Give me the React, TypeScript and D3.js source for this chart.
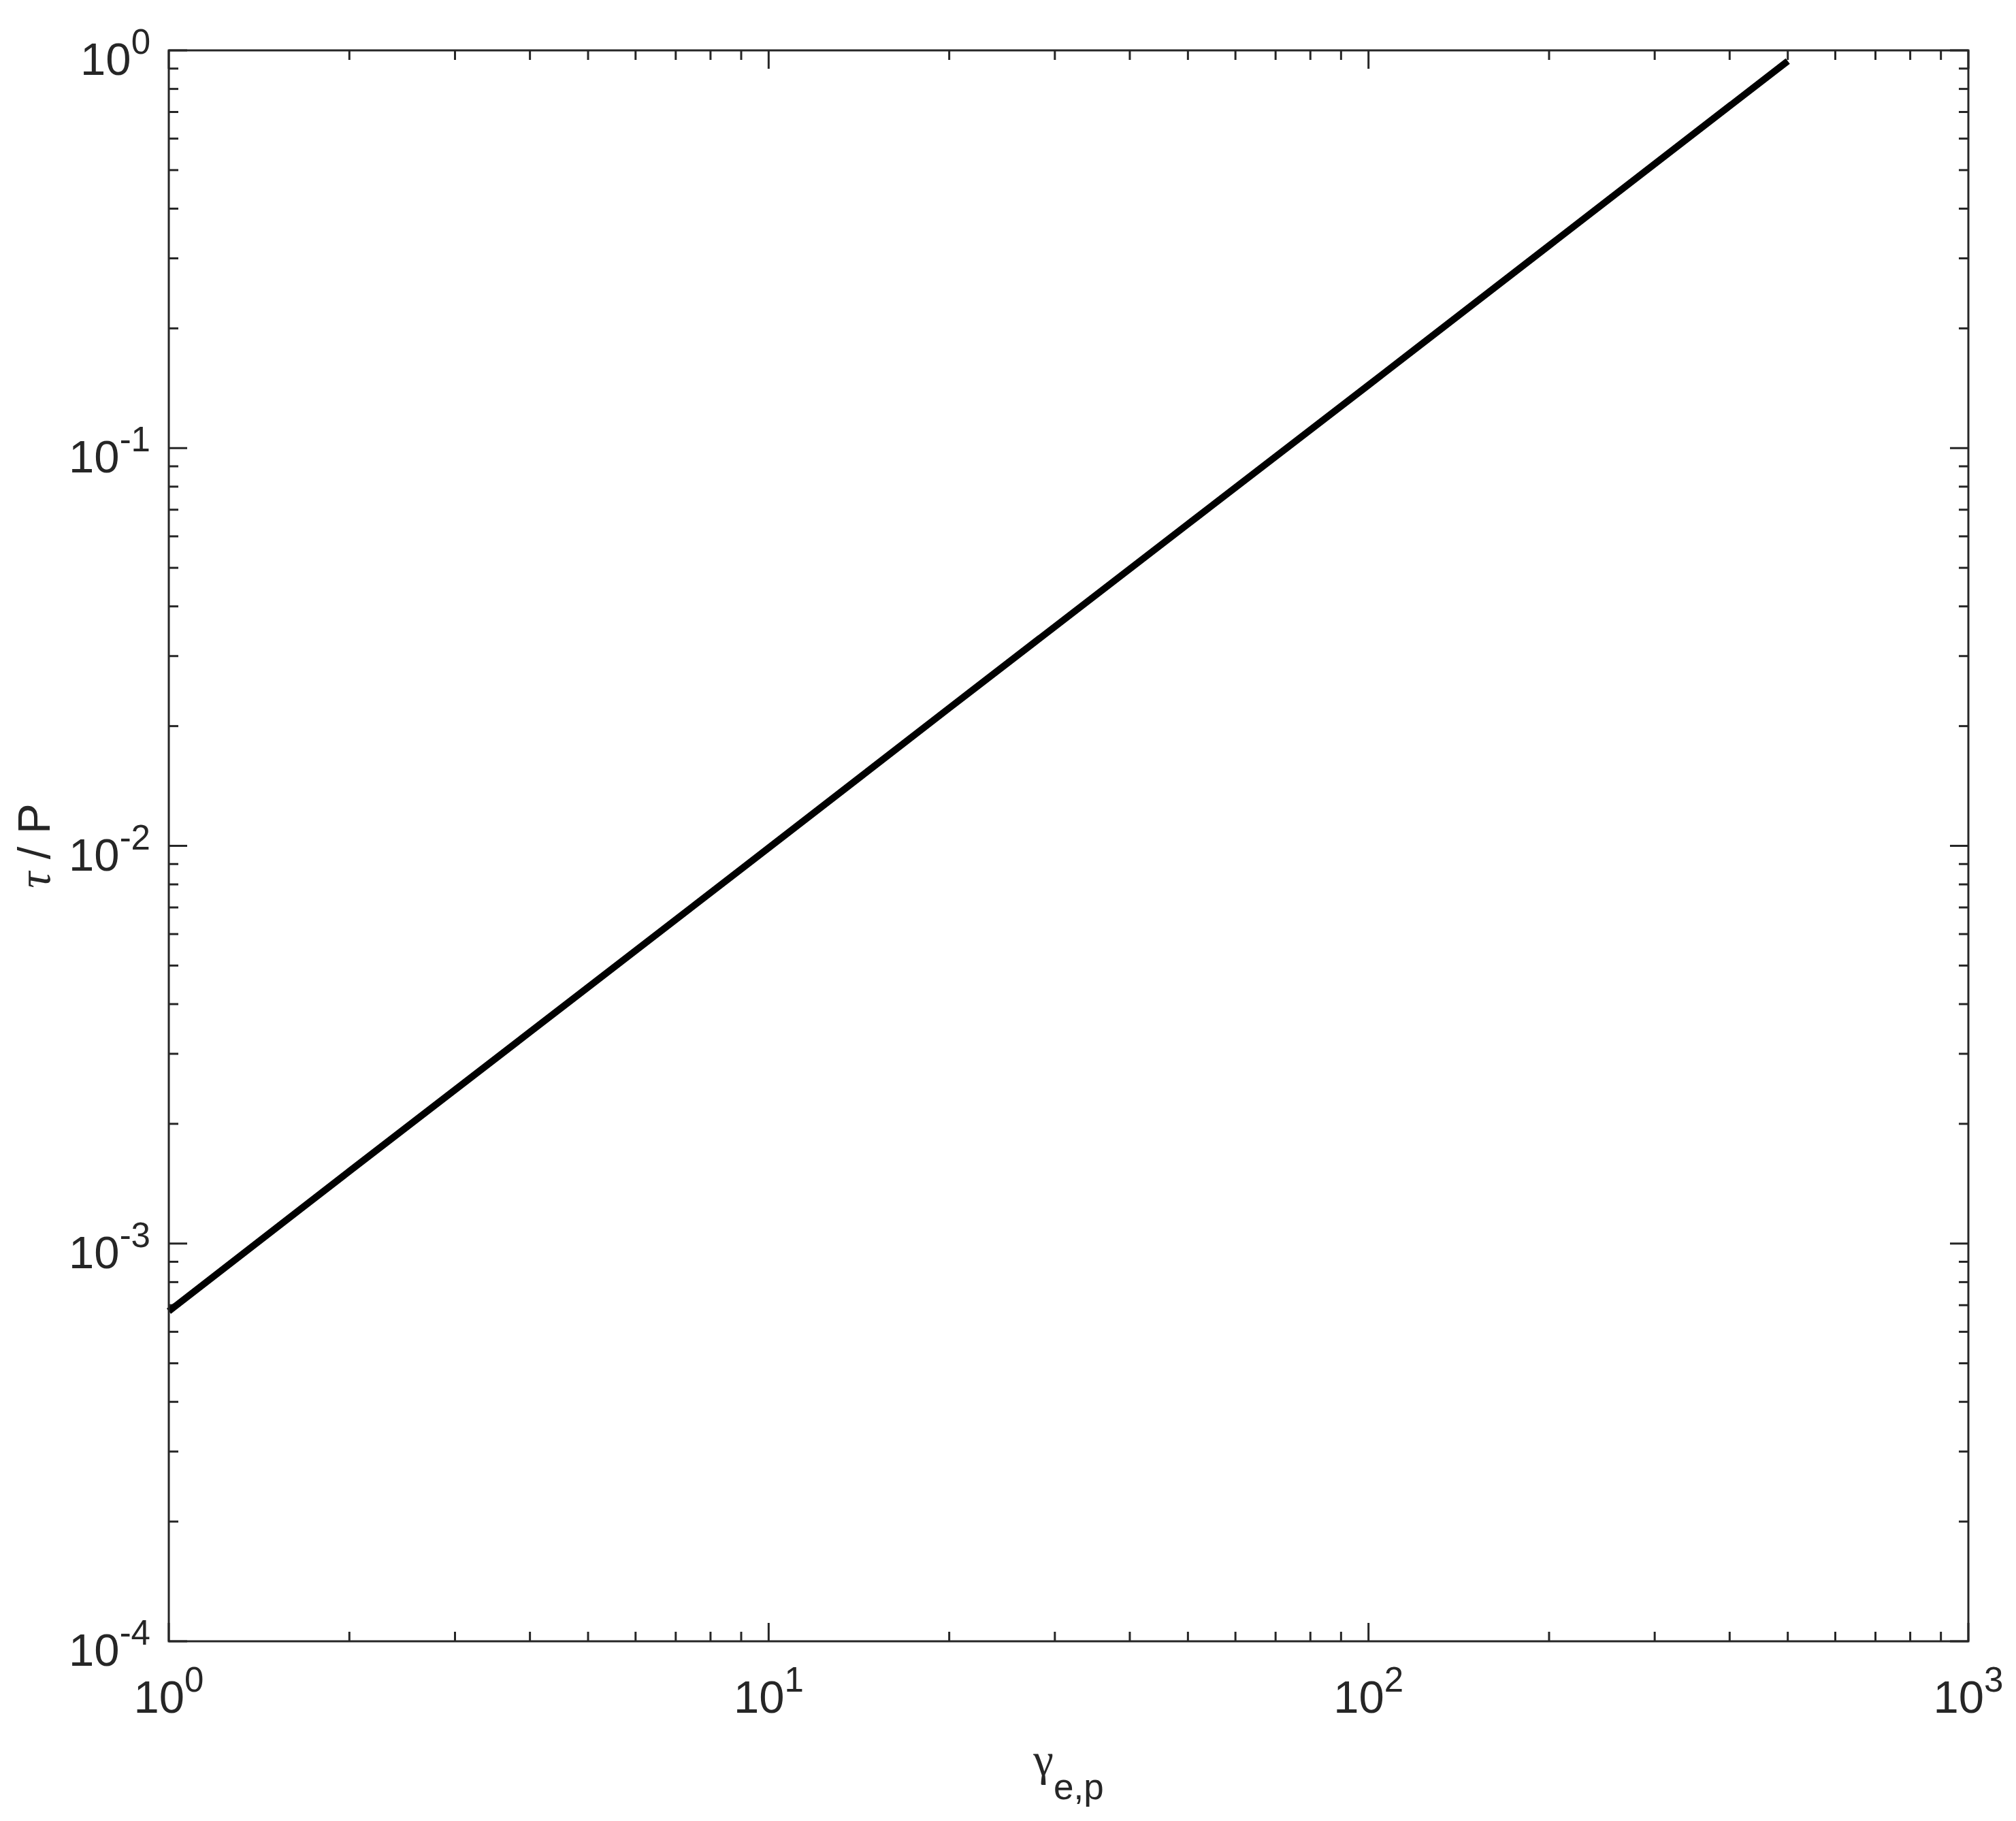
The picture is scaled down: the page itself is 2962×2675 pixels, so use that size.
import React from "react";
import * as d3 from "d3";

const width = 2962;
const height = 2675;

// values
const gamma = [1, 2, 5, 10, 20, 50, 100, 200, 500];
const tauOverP = [6.76e-4, 1.52e-3, 4.41e-3, 9.88e-3, 0.0222, 0.0644, 0.144, 0.323, 0.94];
const xDecades = [0, 1, 2, 3];
const yDecades = [-4, -3, -2, -1, 0];

const margin = { left: 248, right: 70, top: 74, bottom: 264 };
const axisColor = "#262626";
const sans = "'Liberation Sans', Arial, Helvetica, sans-serif";
const serif = "'Liberation Serif', 'Times New Roman', serif";

const App = () => {
  const x = d3
    .scaleLog()
    .domain([1, 1000])
    .range([margin.left, width - margin.right]);
  const y = d3
    .scaleLog()
    .domain([1e-4, 1])
    .range([height - margin.bottom, margin.top]);

  const [x0, x1] = x.range();
  const [y0, y1] = y.range();

  const isMajor = (v: number) => Math.abs(Math.log10(v) - Math.round(Math.log10(v))) < 1e-9;
  const majorLen = 27;
  const minorLen = 14;

  const line = d3
    .line<number>()
    .x((d, i) => x(gamma[i]))
    .y((d) => y(d));

  const xt = x.ticks();
  const yt = y.ticks();

  return (
    <svg
      width={width}
      height={height}
      viewBox={`0 0 ${width} ${height}`}
      style={{ position: "absolute", left: 0, top: 0, background: "white" }}
    >
      <rect x={0} y={0} width={width} height={height} fill="white" />

      {/* ticks, inward on all four sides */}
      <g stroke={axisColor} strokeWidth={3}>
        {xt.map((t, i) => {
          const len = isMajor(t) ? majorLen : minorLen;
          return (
            <g key={"xt" + i}>
              <line x1={x(t)} x2={x(t)} y1={y0} y2={y0 - len} />
              <line x1={x(t)} x2={x(t)} y1={y1} y2={y1 + len} />
            </g>
          );
        })}
        {yt.map((t, i) => {
          const len = isMajor(t) ? majorLen : minorLen;
          return (
            <g key={"yt" + i}>
              <line x1={x0} x2={x0 + len} y1={y(t)} y2={y(t)} />
              <line x1={x1} x2={x1 - len} y1={y(t)} y2={y(t)} />
            </g>
          );
        })}
      </g>

      {/* data */}
      <path
        d={line(tauOverP) || ""}
        fill="none"
        stroke="#000"
        strokeWidth={10}
        strokeLinecap="butt"
        strokeLinejoin="round"
      />

      {/* frame */}
      <rect
        x={x0}
        y={y1}
        width={x1 - x0}
        height={y0 - y1}
        fill="none"
        stroke={axisColor}
        strokeWidth={3}
      />

      {/* x tick labels */}
      <g fill={axisColor} fontFamily={sans}>
        {xDecades.map((p) => (
          <text key={"xl" + p} x={x(Math.pow(10, p))} y={y0 + 105} textAnchor="middle" fontSize={67}>
            10
            <tspan fontSize={51} dy={-31}>
              {p}
            </tspan>
          </text>
        ))}
      </g>

      {/* y tick labels */}
      <g fill={axisColor} fontFamily={sans}>
        {yDecades.map((p) => (
          <text key={"yl" + p} x={x0 - 27} y={y(Math.pow(10, p)) + 36} textAnchor="end" fontSize={67}>
            10
            <tspan fontSize={51} dy={-31}>
              {p < 0 ? "-" + Math.abs(p) : p}
            </tspan>
          </text>
        ))}
      </g>

      {/* x axis label */}
      <text
        x={(x0 + x1) / 2}
        y={2608}
        textAnchor="middle"
        fill={axisColor}
        fontSize={67}
      >
        <tspan fontFamily={serif}>γ</tspan>
        <tspan fontFamily={sans} fontSize={53} dy={35}>
          e,p
        </tspan>
      </text>

      {/* y axis label */}
      <text
        transform={`translate(73, ${(y0 + y1) / 2}) rotate(-90)`}
        textAnchor="middle"
        fill={axisColor}
        fontSize={67}
        fontFamily={sans}
      >
        <tspan fontFamily={serif} fontStyle="italic">τ</tspan>
        <tspan> / P</tspan>
      </text>
    </svg>
  );
};

export default App;
